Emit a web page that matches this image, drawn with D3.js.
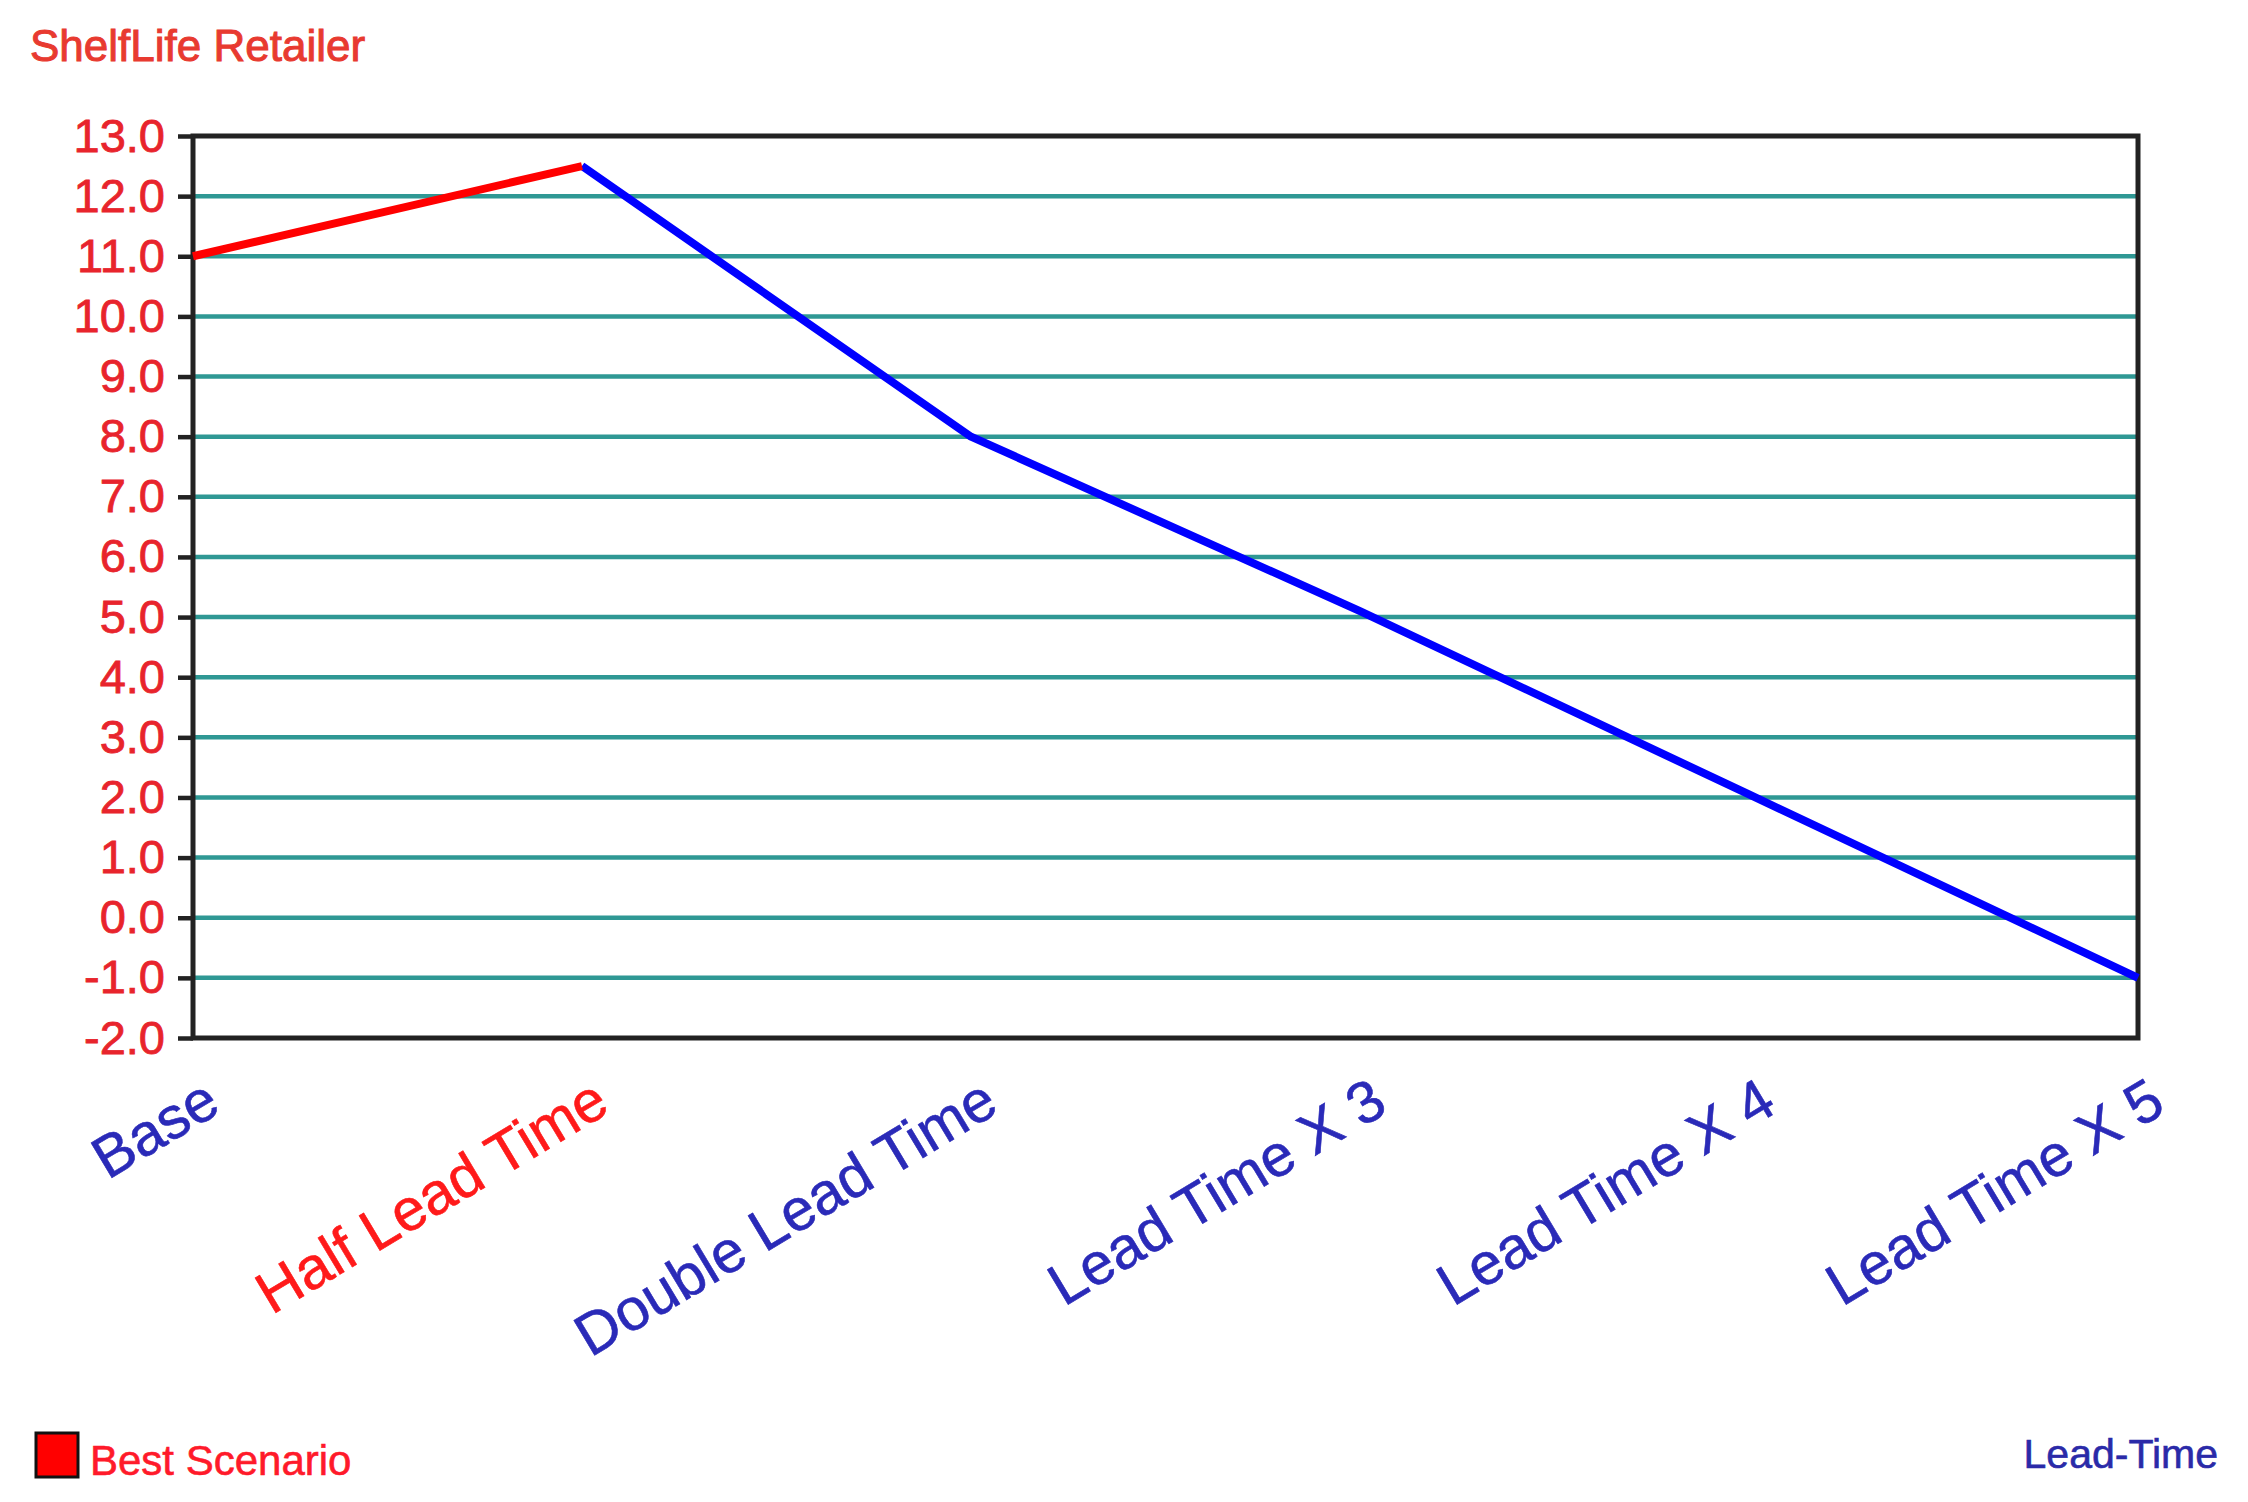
<!DOCTYPE html>
<html>
<head>
<meta charset="utf-8">
<script src="https://cdn.jsdelivr.net/npm/d3@7"></script>
<style>
html,body{margin:0;padding:0;background:#fff;}
svg{display:block;}
text{font-family:"Liberation Sans",Arial,sans-serif;}
</style>
</head>
<body>
<script>
const categories = ["Base","Half Lead Time","Double Lead Time","Lead Time X 3","Lead Time X 4","Lead Time X 5"];
const values = [11.0, 12.5, 8.0, 5.1, 2.05, -1.0];
const bestIndex = 1;
const yTicks = [13,12,11,10,9,8,7,6,5,4,3,2,1,0,-1,-2];
const title = "ShelfLife Retailer";
const legendLabel = "Best Scenario";
const xTitle = "Lead-Time";

const W = 2248, H = 1502;
const m = {left:193, top:136, right:W-2138, bottom:H-1038};
const pw = W - m.left - m.right, ph = H - m.top - m.bottom;

const svg = d3.select("body").append("svg").attr("width",W).attr("height",H);

const x = d3.scalePoint().domain(categories).range([0,pw]);
const y = d3.scaleLinear().domain([-2,13]).range([ph,0]);

const g = svg.append("g").attr("transform",`translate(${m.left},${m.top})`);

// grid
g.selectAll("line.grid").data(yTicks.filter(t=>t>-2 && t<13)).enter().append("line")
  .attr("class","grid")
  .attr("x1",0).attr("x2",pw)
  .attr("y1",d=>y(d)).attr("y2",d=>y(d))
  .attr("stroke","#2f9894").attr("stroke-width",4.5);

// y axis
const fmt = d => d3.format(".1f")(d).replace("\u2212","-");
const yAxis = d3.axisLeft(y).tickValues(yTicks).tickSize(15).tickPadding(13)
  .tickFormat(fmt);
const ya = g.append("g").call(yAxis);
ya.select(".domain").remove();
ya.selectAll(".tick line").attr("stroke","#222").attr("stroke-width",4.5);
ya.selectAll(".tick text").attr("fill","#e8242c").attr("font-size",47)
  .attr("stroke","#e8242c").attr("stroke-width",0.8)
  .attr("font-family","'Liberation Sans',Arial,sans-serif");

// x axis labels
const xa = g.append("g").attr("transform",`translate(0,${ph})`);
xa.selectAll("text").data(categories).enter().append("text")
  .attr("transform",d=>`translate(${x(d)+30},${1111-1038}) rotate(-31)`)
  .attr("text-anchor","end")
  .attr("font-size",59)
  .attr("fill",(d,i)=>i===bestIndex?"#ff1a1a":"#2a2ab8")
  .attr("stroke",(d,i)=>i===bestIndex?"#ff1a1a":"#2a2ab8")
  .attr("stroke-width",0.6)
  .text(d=>d);

// frame
g.append("rect").attr("x",0).attr("y",0).attr("width",pw).attr("height",ph)
  .attr("fill","none").attr("stroke","#222").attr("stroke-width",5);

// line segments
const pts = categories.map((c,i)=>({c, v:values[i], i}));
const line = d3.line().x(d=>x(d.c)).y(d=>y(d.v));
const seg1 = pts.slice(0,bestIndex+1);
const seg2 = pts.slice(bestIndex);
g.append("path").datum(seg2).attr("d",line).attr("fill","none")
  .attr("stroke","#0000ff").attr("stroke-width",8).attr("stroke-linejoin","round");
g.append("path").datum(seg1).attr("d",line).attr("fill","none")
  .attr("stroke","#ff0000").attr("stroke-width",8).attr("stroke-linejoin","round");

// title
svg.append("text").attr("x",30).attr("y",61).attr("font-size",44)
  .attr("fill","#e83a30").attr("stroke","#e83a30").attr("stroke-width",1)
  .text(title);

// legend
svg.append("rect").attr("x",36).attr("y",1433).attr("width",42).attr("height",44)
  .attr("fill","#ff0000").attr("stroke","#111").attr("stroke-width",3);
svg.append("text").attr("x",90).attr("y",1475).attr("font-size",42)
  .attr("fill","#ff1a2a").attr("stroke","#ff1a2a").attr("stroke-width",0.6)
  .text(legendLabel);

svg.append("text").attr("x",2218).attr("y",1468).attr("font-size",41)
  .attr("text-anchor","end").attr("fill","#2a2aa8")
  .attr("stroke","#2a2aa8").attr("stroke-width",0.6).text(xTitle);
</script>
</body>
</html>
